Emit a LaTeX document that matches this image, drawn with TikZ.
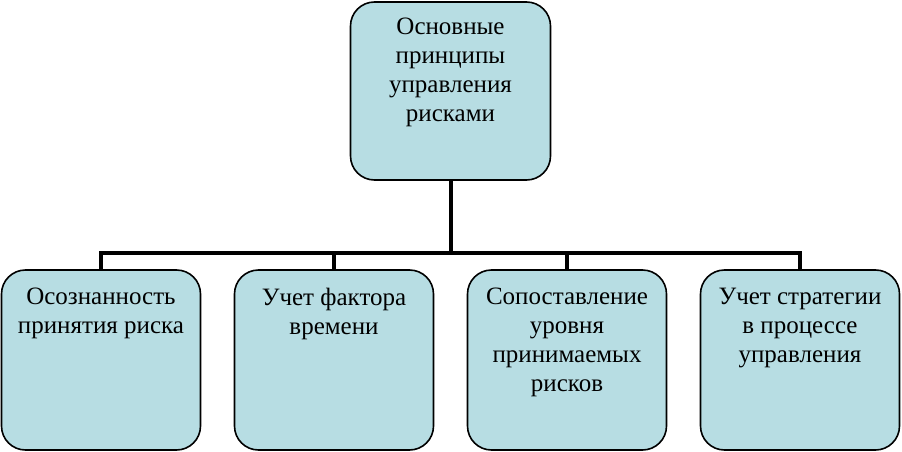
\documentclass[tikz,border=0pt]{standalone}
\usepackage{fontspec}
\setmainfont{Liberation Serif}
\begin{document}
\begin{tikzpicture}[x=1pt,y=-1pt,
  boxst/.style={draw=black, line width=1.6pt, fill=boxfill, rounded corners=24pt, inner sep=0pt, outer sep=0pt},
  conn/.style={draw=black, line width=4pt}]
\definecolor{boxfill}{RGB}{183,221,227}
\useasboundingbox (0,0) rectangle (902,452);
\newcommand{\boxtext}[4]{\parbox[c][#1][t]{#2}{\centering\fontsize{25pt}{29pt}\selectfont\vspace*{#3}#4\par}}
\node[boxst] (top) at (450.5,91) {\boxtext{178pt}{200pt}{16pt}{Основные\\принципы\\управления\\рисками}};
\node[boxst] (b1) at (101,360) {\boxtext{180pt}{199pt}{18pt}{Осознанность\\принятия риска}};
\node[boxst] (b2) at (334,360) {\boxtext{180pt}{199pt}{18pt}{Учет фактора\\времени}};
\node[boxst] (b3) at (567,360) {\boxtext{180pt}{199pt}{18pt}{Сопоставление\\уровня\\принимаемых\\рисков}};
\node[boxst] (b4) at (800,360) {\boxtext{180pt}{199pt}{18pt}{Учет стратегии\\в процессе\\управления}};
\coordinate (hub) at (450.5,253);
\draw[conn] (top.south) -- (hub);
\draw[conn] (b1.north) |- (hub) -| (b4.north);
\draw[conn] (b2.north) -- (b2.north |- hub);
\draw[conn] (b3.north) -- (b3.north |- hub);
\end{tikzpicture}
\end{document}
